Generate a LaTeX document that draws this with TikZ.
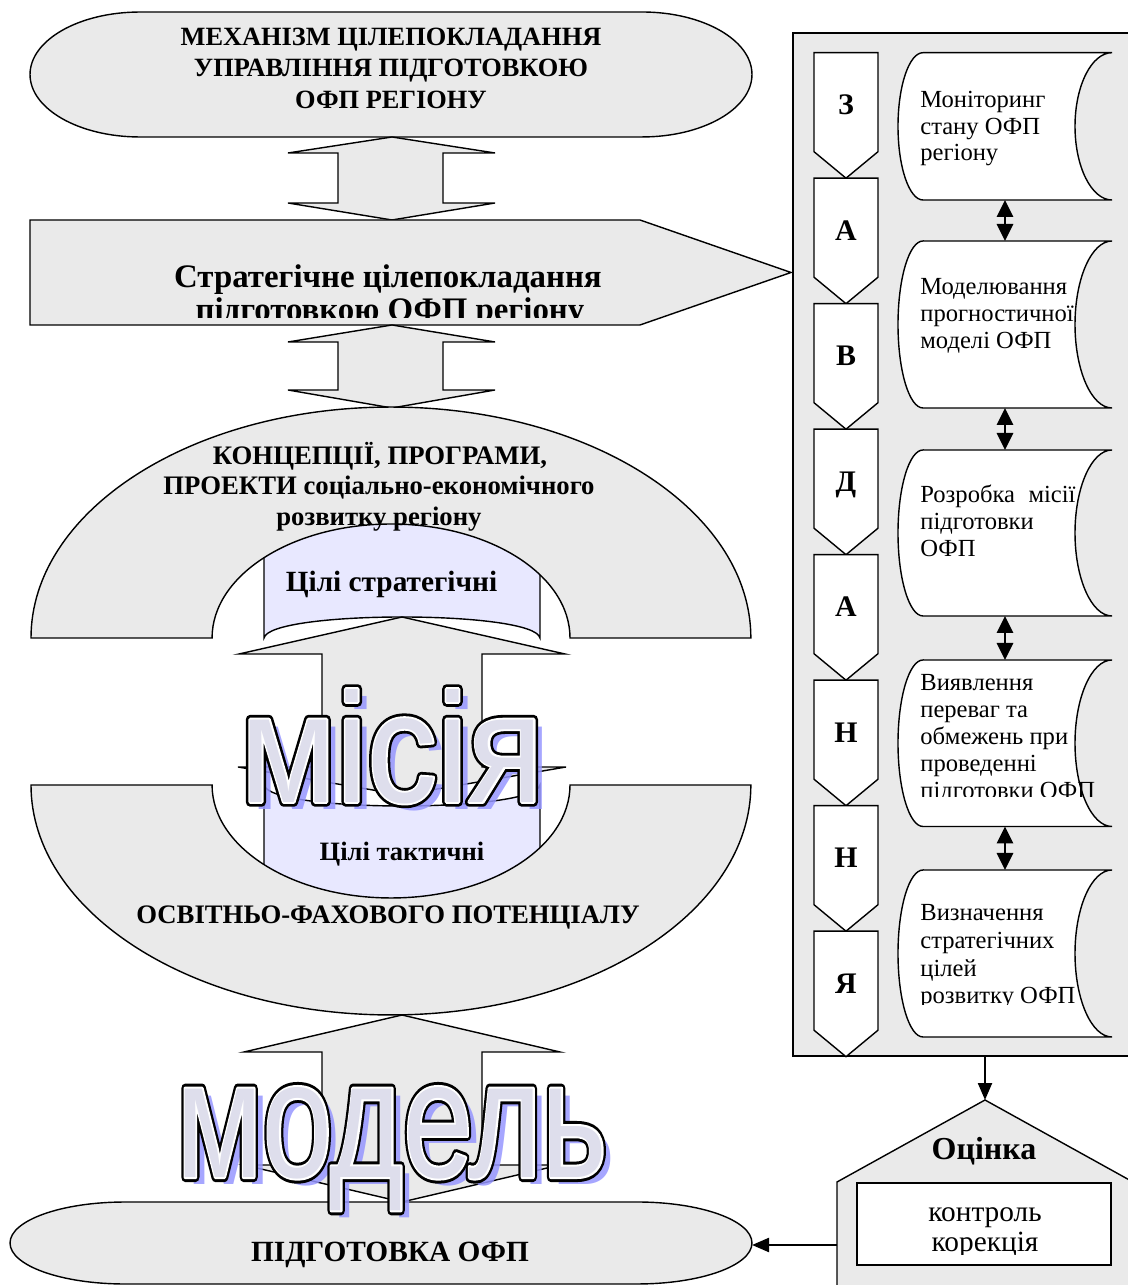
\documentclass[tikz,border=0pt]{standalone}
\usepackage{fontspec}
\setmainfont{Liberation Serif}
\newfontfamily\arialf{Liberation Sans}
\newfontfamily\arialbk[FakeBold=6]{Liberation Sans}
\newfontfamily\arialwt[FakeBold=2.4]{Liberation Sans}
\usetikzlibrary{arrows.meta}
\definecolor{panelgray}{RGB}{234,234,234}
\definecolor{lav}{RGB}{232,232,255}
\definecolor{wafill}{RGB}{222,222,236}
\definecolor{wshadow}{RGB}{150,150,255}
\newcommand\docshape[2]{%
  \pgfmathsetmacro\dry{(#1-#2)/2*0.02}%
  \draw[wht] (923,#1) -- (1112,#1) arc[start angle=90,end angle=270,x radius=0.74cm,y radius=\dry cm]
    -- (923,#2) arc[start angle=270,end angle=90,x radius=0.5cm,y radius=\dry cm] -- cycle;}
\newcommand\misiatext[1]{\resizebox{6.06cm}{2.26cm}{#1місія}}
\newcommand\modeltext[1]{\resizebox{8.62cm}{1.8cm}{#1модель}}
\begin{document}
\begin{tikzpicture}[x=0.02cm,y=0.02cm,
  shp/.style={draw=black,fill=panelgray,line width=0.8pt,line join=miter},
  wht/.style={draw=black,fill=white,line width=0.8pt},
  lab/.style={inner sep=0pt,anchor=base},
  doct/.style={inner sep=0pt,anchor=base west,font=\fontsize{14}{15}\selectfont},
  chl/.style={inner sep=0pt,anchor=base,font=\fontsize{17}{18}\selectfont\bfseries},
  tip/.style={-{Triangle[length=0.34cm,width=0.28cm]},line width=1.3pt},
  dtip/.style={{Triangle[length=0.34cm,width=0.32cm]}-{Triangle[length=0.34cm,width=0.32cm]},line width=1.6pt},
  wa/.style={inner sep=0pt,anchor=base west,line join=round,miter limit=1}
]
\useasboundingbox (0,0) rectangle (1127,1285);

% ---------- right panel ----------
\draw[shp] (793,229) rectangle (1140,1252);
\foreach \k/\L in {0/З,1/А,2/В,3/Д,4/А,5/Н,6/Н,7/Я}{
  \pgfmathsetmacro\T{1232.3-125.5*\k}
  \draw[wht] (814,\T) -- (878,\T) -- (878,\T-99) -- (846,\T-125.5) -- (814,\T-99) -- cycle;
  \node[chl] (ch\k) at (846,\T-62) {\L};
}
\docshape{1232.3}{1085}
\docshape{1044}{877}
\docshape{835}{669}
\docshape{625}{458.5}
\docshape{415}{248}
\coordinate (d1b) at (1005,1085); \coordinate (d2t) at (1005,1044);
\coordinate (d2b) at (1005,877);  \coordinate (d3t) at (1005,835);
\coordinate (d3b) at (1005,669);  \coordinate (d4t) at (1005,625);
\coordinate (d4b) at (1005,458.5);\coordinate (d5t) at (1005,415);
\draw[dtip] (d1b) -- (d2t);
\draw[dtip] (d2b) -- (d3t);
\draw[dtip] (d3b) -- (d4t);
\draw[dtip] (d4b) -- (d5t);

\node[doct] (s1a) at (920,1177) {Моніторинг};
\node[doct] (s1b) at (920,1150.5) {стану ОФП};
\node[doct] (s1c) at (920,1124) {регіону};
\node[doct] (s2a) at (920,990) {Моделювання};
\node[doct] (s2b) at (920,963) {прогностичної};
\node[doct] (s2c) at (920,936) {моделі ОФП};
\node[doct] (s3a) at (920,782) {Розробка\hspace{0.55em}місії};
\node[doct] (s3b) at (920,755) {підготовки};
\node[doct] (s3c) at (920,728) {ОФП};
\begin{scope}
  \clip (900,488) rectangle (1112,625);
  \node[doct] (s4a) at (920,594) {Виявлення};
  \node[doct] (s4b) at (920,567) {переваг та};
  \node[doct] (s4c) at (920,540) {обмежень при};
  \node[doct] (s4d) at (920,513) {проведенні};
  \node[doct] (s4e) at (920,486) {підготовки ОФП};
\end{scope}
\begin{scope}
  \clip (900,280) rectangle (1112,415);
  \node[doct] (s5a) at (920,364) {Визначення};
  \node[doct] (s5b) at (920,336) {стратегічних};
  \node[doct] (s5c) at (920,308.4) {цілей};
  \node[doct] (s5d) at (920,281) {розвитку ОФП};
\end{scope}

% ---------- Оцінка ----------
\draw[shp] (837,-10) -- (837,103) -- (985,185) -- (1133,103) -- (1133,-10) -- cycle;
\draw[wht] (857,20) rectangle (1111,102);
\node[lab,font=\fontsize{18.2}{19}\selectfont\bfseries] (otsinka) at (984,125) {Оцінка};
\node[lab,font=\fontsize{16.7}{17}\selectfont] (kontrol) at (985,63) {контроль};
\begin{scope}
  \clip (857,30) rectangle (1111,102);
  \node[lab,font=\fontsize{16.7}{17}\selectfont] (korek) at (985,33) {корекція};
\end{scope}
\coordinate (pbot) at (985,229); \coordinate (oapex) at (985,185);
\draw[tip] (pbot) -- (oapex);

% ---------- top terminator ----------
\draw[shp] (140,1273) -- (642,1273) arc[start angle=90,end angle=-90,x radius=2.2cm,y radius=1.25cm]
  -- (140,1148) arc[start angle=270,end angle=90,x radius=2.2cm,y radius=1.25cm] -- cycle;
\node[lab,font=\fontsize{15}{16}\selectfont\bfseries] (t1) at (391,1239.5) {МЕХАНІЗМ ЦІЛЕПОКЛАДАННЯ};
\node[lab,font=\fontsize{15}{16}\selectfont\bfseries] (t2) at (391,1208.5) {УПРАВЛІННЯ ПІДГОТОВКОЮ};
\node[lab,font=\fontsize{15}{16}\selectfont\bfseries] (t3) at (391,1176.5) {ОФП РЕГІОНУ};

% double arrow 1
\draw[shp] (392,1148) -- (495,1132) -- (443,1132) -- (443,1082) -- (495,1082) -- (392,1065)
  -- (288,1082) -- (338,1082) -- (338,1132) -- (288,1132) -- cycle;

% pentagon
\draw[shp] (30,1065) -- (640,1065) -- (791,1012.5) -- (640,960) -- (30,960) -- cycle;
\node[lab,font=\fontsize{18.7}{19}\selectfont\bfseries] (st1) at (388,997) {Стратегічне цілепокладання};
\begin{scope}
  \clip (30,967) rectangle (640,1065);
  \node[lab,font=\fontsize{18.7}{19}\selectfont\bfseries] (st2) at (390,964) {підготовкою ОФП регіону};
\end{scope}

% double arrow 2
\draw[shp] (392,960) -- (495,943) -- (443,943) -- (443,895) -- (495,895) -- (392,877)
  -- (288,895) -- (338,895) -- (338,943) -- (288,943) -- cycle;

% ---------- upper arch and banner ----------
\begin{scope}
  \clip (391,647) ellipse [x radius=3.58cm,y radius=2.28cm];
  \draw[draw=black,fill=lav,line width=0.8pt] (264,647) .. controls (270,675) and (534,675) .. (540,647)
     -- (540,800) -- (264,800) -- cycle;
\end{scope}
\draw[shp] (31,647) arc[start angle=180,end angle=0,x radius=7.2cm,y radius=4.62cm]
  -- (570,647) arc[start angle=0,end angle=180,x radius=3.58cm,y radius=2.28cm] -- cycle;

% ---------- lower arch and banner ----------
\begin{scope}
  \clip (391,500) ellipse [x radius=3.58cm,y radius=2.26cm];
  \draw[draw=black,fill=lav,line width=0.8pt] (264,500) .. controls (270,472) and (534,472) .. (540,500)
     -- (540,380) -- (264,380) -- cycle;
\end{scope}
\draw[shp] (31,500) arc[start angle=180,end angle=360,x radius=7.2cm,y radius=4.6cm]
  -- (570,500) arc[start angle=360,end angle=180,x radius=3.58cm,y radius=2.26cm] -- cycle;

% mission arrow
\draw[shp] (402,668) -- (565,631) -- (482,631) -- (482,518) -- (566,518) -- (402,490)
  -- (238,518) -- (322,518) -- (322,631) -- (239,631) -- cycle;
% model arrow
\draw[shp] (402,270) -- (560,233) -- (482,233) -- (482,120) -- (560,120) -- (402,83)
  -- (244,120) -- (322,120) -- (322,233) -- (244,233) -- cycle;

% ---------- bottom terminator ----------
\draw[shp] (125,83) -- (637,83) arc[start angle=90,end angle=-90,x radius=2.3cm,y radius=0.82cm]
  -- (125,1) arc[start angle=270,end angle=90,x radius=2.3cm,y radius=0.82cm] -- cycle;
\node[lab,font=\fontsize{16.7}{17}\selectfont\bfseries] (pidg) at (390,24) {ПІДГОТОВКА ОФП};
\coordinate (owall) at (837,40); \coordinate (pend) at (752,40);
\draw[tip] (owall) -- (pend);

% ---------- arch texts ----------
\node[lab,font=\fontsize{15.2}{16}\selectfont\bfseries] (k1) at (380,820) {КОНЦЕПЦІЇ, ПРОГРАМИ,};
\node[lab,font=\fontsize{15.2}{16}\selectfont\bfseries] (k2) at (379,790) {ПРОЕКТИ соціально-економічного};
\node[lab,font=\fontsize{15.2}{16}\selectfont\bfseries] (k3) at (379,759) {розвитку регіону};
\node[lab,font=\fontsize{16.7}{17}\selectfont\bfseries] (cs) at (391.5,693) {Цілі стратегічні};
\node[lab,font=\fontsize{15.1}{16}\selectfont\bfseries] (ct) at (402,424) {Цілі тактичні};
\node[lab,font=\fontsize{15.2}{16}\selectfont\bfseries] (osv) at (388,361) {ОСВІТНЬО-ФАХОВОГО ПОТЕНЦІАЛУ};

% ---------- WordArt ----------
\begin{scope}[line join=round,miter limit=1]
\node[wa,text=wshadow,opacity=0.85] (msh) at (249,476) {\misiatext{\arialf}};
\node[wa,text=black] (mblk) at (240,483) {\misiatext{\arialbk}};
\node[wa,text=white] (mwht) at (240,483) {\misiatext{\arialwt}};
\node[wa,text=wafill] (mfill) at (240,483) {\misiatext{\arialf}};

\node[wa,text=wshadow,opacity=0.85] (mdsh) at (185,101) {\modeltext{\arialf}};
\node[wa,text=black] (dblk) at (176,108) {\modeltext{\arialbk}};
\node[wa,text=white] (dwht) at (176,108) {\modeltext{\arialwt}};
\node[wa,text=wafill] (dfill) at (176,108) {\modeltext{\arialf}};
\end{scope}
\end{tikzpicture}
\end{document}
